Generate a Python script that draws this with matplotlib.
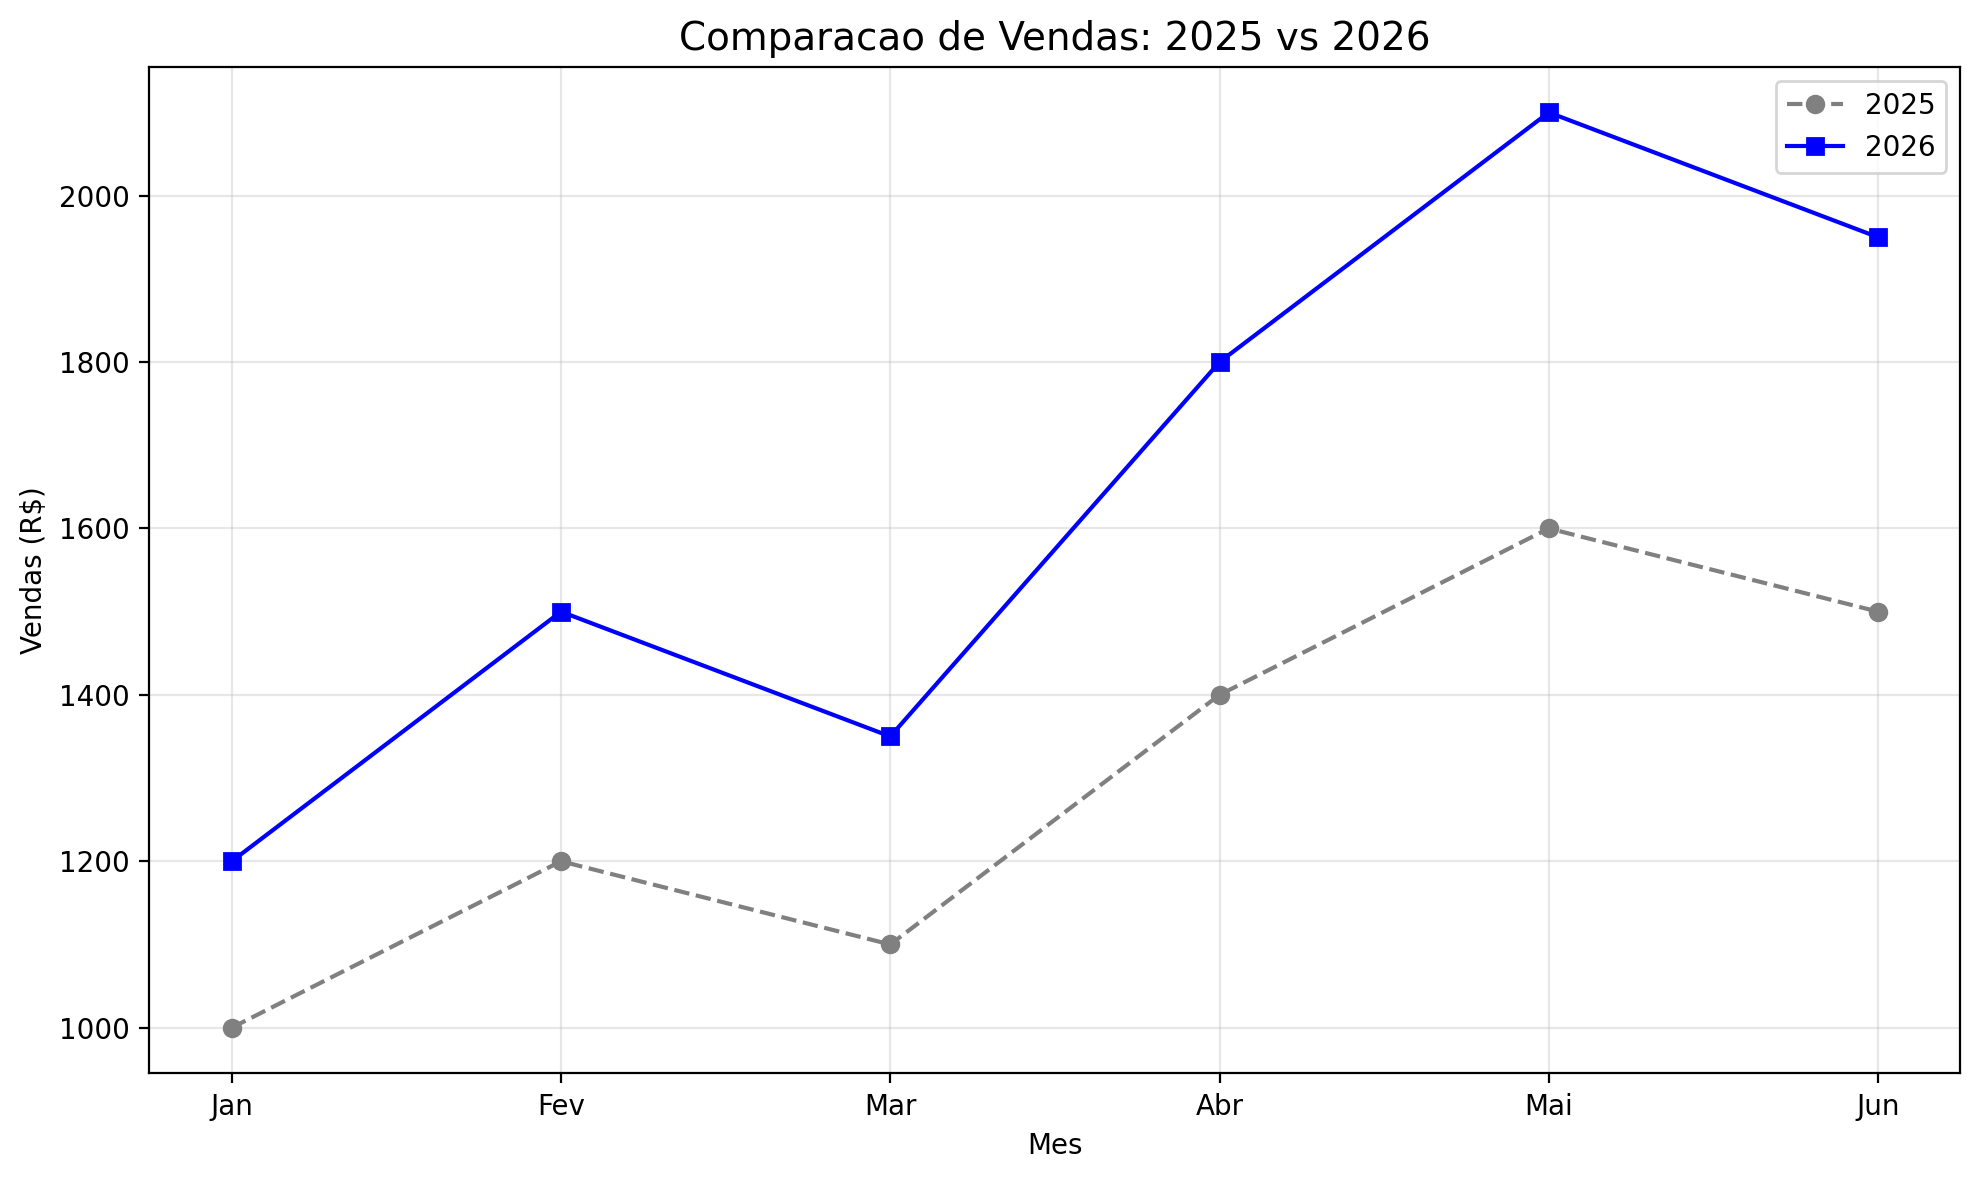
import matplotlib
matplotlib.use('Agg')
import matplotlib.pyplot as plt

meses = ['Jan', 'Fev', 'Mar', 'Abr', 'Mai', 'Jun']
vendas_2025 = [1000, 1200, 1100, 1400, 1600, 1500]
vendas_2026 = [1200, 1500, 1350, 1800, 2100, 1950]

fig, ax = plt.subplots(figsize=(10, 6))
ax.plot(meses, vendas_2025, marker='o', linestyle='--', color='gray', label='2025')
ax.plot(meses, vendas_2026, marker='s', linestyle='-', color='blue', label='2026')
ax.set_title('Comparacao de Vendas: 2025 vs 2026', fontsize=14)
ax.set_xlabel('Mes')
ax.set_ylabel('Vendas (R$)')
ax.legend()
ax.grid(True, alpha=0.3)
fig.tight_layout()
fig.savefig('out.png', dpi=200, bbox_inches='tight')
